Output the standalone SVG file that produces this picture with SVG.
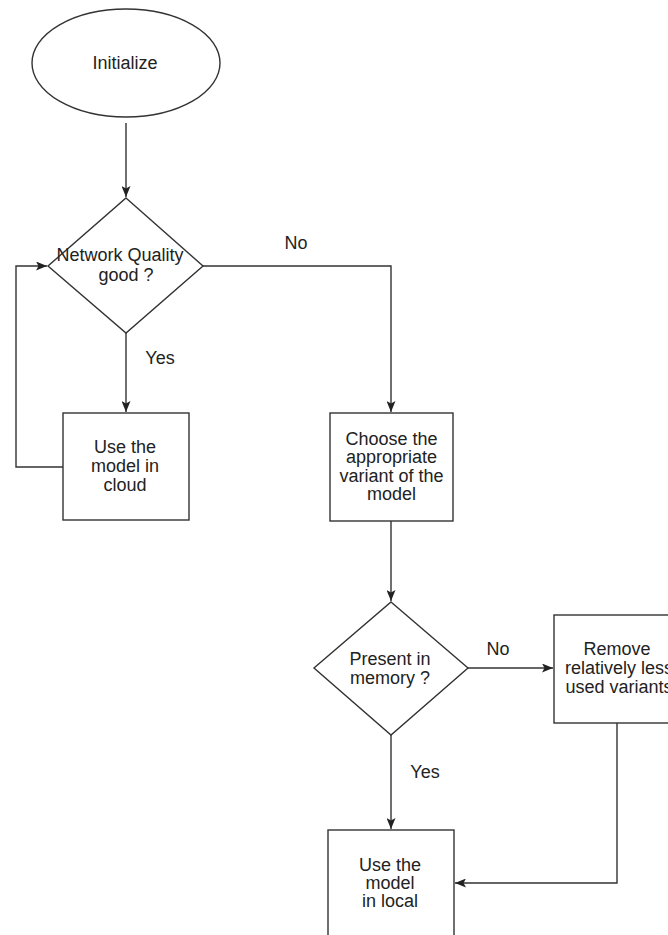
<svg xmlns="http://www.w3.org/2000/svg" width="668" height="935" viewBox="0 0 668 935">
<style>
.s{fill:#fff;stroke:#333;stroke-width:1.4}
.c{fill:none;stroke:#333;stroke-width:1.4}
text{font-family:"Liberation Sans",Arial,sans-serif;font-size:18px;fill:#222;text-anchor:middle}
</style>
<defs>
<marker id="a" viewBox="0 0 11 9" refX="11" refY="4.5" markerWidth="11" markerHeight="9" markerUnits="userSpaceOnUse" orient="auto">
<path d="M0,0 L11,4.5 L0,9 L2.5,4.5 z" fill="#222"/>
</marker>
</defs>
<rect width="668" height="935" fill="#fff"/>
<g id="connectors">
<line class="c" x1="126" y1="123" x2="126" y2="197" marker-end="url(#a)"/>
<line class="c" x1="126" y1="333" x2="126" y2="412" marker-end="url(#a)"/>
<polyline class="c" points="63,467 16,467 16,266 47,266" marker-end="url(#a)"/>
<polyline class="c" points="203,266 391,266 391,412" marker-end="url(#a)"/>
<line class="c" x1="391" y1="521" x2="391" y2="601" marker-end="url(#a)"/>
<line class="c" x1="468" y1="668" x2="553" y2="668" marker-end="url(#a)"/>
<line class="c" x1="391" y1="735" x2="391" y2="829" marker-end="url(#a)"/>
<polyline class="c" points="617,723 617,883 455,883" marker-end="url(#a)"/>
<text x="296" y="249">No</text>
<text x="160" y="364">Yes</text>
<text x="498" y="655">No</text>
<text x="425" y="778">Yes</text>
</g>
<g id="initialize">
<ellipse class="s" cx="126" cy="63" rx="94" ry="54"/>
<text x="125" y="69">Initialize</text>
</g>
<g id="network">
<polygon class="s" points="126,198 203,266 126,333 48,266"/>
<text x="120" y="261">Network Quality</text>
<text x="126" y="281">good ?</text>
</g>
<g id="cloud">
<rect class="s" x="63" y="413" width="126" height="107"/>
<text x="125" y="453">Use the</text>
<text x="125" y="472">model in</text>
<text x="125" y="491">cloud</text>
</g>
<g id="choose">
<rect class="s" x="330" y="413" width="123" height="108"/>
<text x="391.5" y="445">Choose the</text>
<text x="391.5" y="463">appropriate</text>
<text x="391.5" y="482">variant of the</text>
<text x="391.5" y="500">model</text>
</g>
<g id="present">
<polygon class="s" points="391,602 468,668 391,735 314,668"/>
<text x="390" y="665">Present in</text>
<text x="390" y="684">memory ?</text>
</g>
<g id="remove">
<rect class="s" x="554" y="615" width="130" height="108"/>
<text x="617" y="655">Remove</text>
<text x="619" y="674">relatively less</text>
<text x="619" y="693">used variants</text>
</g>
<g id="local">
<rect class="s" x="328" y="830" width="126" height="120"/>
<text x="390" y="871">Use the</text>
<text x="390" y="889">model</text>
<text x="390" y="907">in local</text>
</g>
</svg>
